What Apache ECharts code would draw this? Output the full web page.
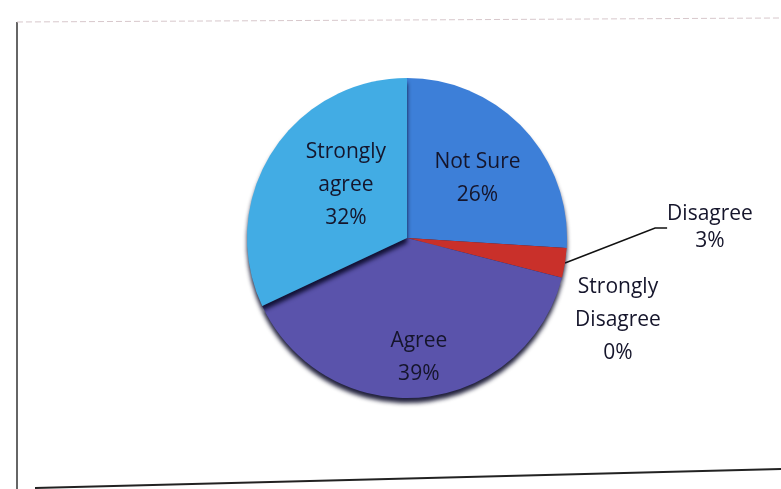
<!DOCTYPE html>
<html>
<head>
<meta charset="utf-8">
<script src="https://cdn.jsdelivr.net/npm/echarts@6/dist/echarts.min.js"></script>
<style>
html, body { margin: 0; padding: 0; background: #fff; }
#chart { width: 781px; height: 489px; }
</style>
</head>
<body>
<div id="chart"></div>
<script>
"use strict"

const names = ["Not Sure", "Disagree", "Strongly Disagree", "Agree", "Strongly agree"];
const values = [26, 3, 0, 39, 32];
const labelTexts = ["Not Sure", "Disagree", "Strongly\nDisagree", "Agree", "Strongly\nagree"];
const colors = ["#3d7fd8", "#c9302a", "#7a3a9a", "#5a53ab", "#42ace4"];

const myChart = echarts.init(document.getElementById("chart"), null, { renderer: "canvas" });

const insideIdx = [0, 3, 4];
const data = names.map((n, i) => ({
    name: n,
    value: values[i],
    itemStyle: { color: colors[i] },
    label: {
        position: insideIdx.includes(i) ? "inside" : "outside",
        formatter: labelTexts[i] + "\n{d}%",
        lineHeight: i === 1 ? 27 : 33
    },
    labelLine: { show: i === 1 }
}));

const option = {
    animation: false,
    backgroundColor: "#ffffff",
    graphic: [
        { type: "line", shape: { x1: 17, y1: 22, x2: 17, y2: 489 }, style: { stroke: "#333", lineWidth: 1.5 } },
        { type: "line", shape: { x1: 17, y1: 22, x2: 781, y2: 18 }, style: { stroke: "#d8c8cc", lineWidth: 1, lineDash: [6, 3] } },
        { type: "line", shape: { x1: 35, y1: 488, x2: 781, y2: 469 }, style: { stroke: "#222", lineWidth: 2 } }
    ],
    series: [{
        type: "pie",
        center: [407, 238],
        radius: 160,
        startAngle: 90,
        clockwise: true,
        avoidLabelOverlap: false,
        itemStyle: {
            borderWidth: 0,
            shadowColor: "rgba(10,10,40,0.9)",
            shadowBlur: 4,
            shadowOffsetY: 5
        },
        label: {
            fontFamily: "Open Sans",
            fontSize: 21,
            fontWeight: 500,
            color: "#15152b",
            align: "center"
        },
        labelLine: {
            lineStyle: { color: "#111", width: 1.5 },
            length: 40,
            length2: 12
        },
        labelLayout: params => {
            if (params.dataIndex === 3) return { dx: 4, dy: 37 };
            if (params.dataIndex === 4) return { dx: 9, dy: -9 };
            if (params.dataIndex === 0) return { dx: 10, dy: -3 };
            if (params.dataIndex === 1) return { x: 710, y: 228, align: "center", verticalAlign: "middle" };
            if (params.dataIndex === 2) return { x: 618, y: 320, align: "center", verticalAlign: "middle" };
            return {};
        },
        data: data
    }]
};

myChart.setOption(option);
</script>
</body>
</html>
